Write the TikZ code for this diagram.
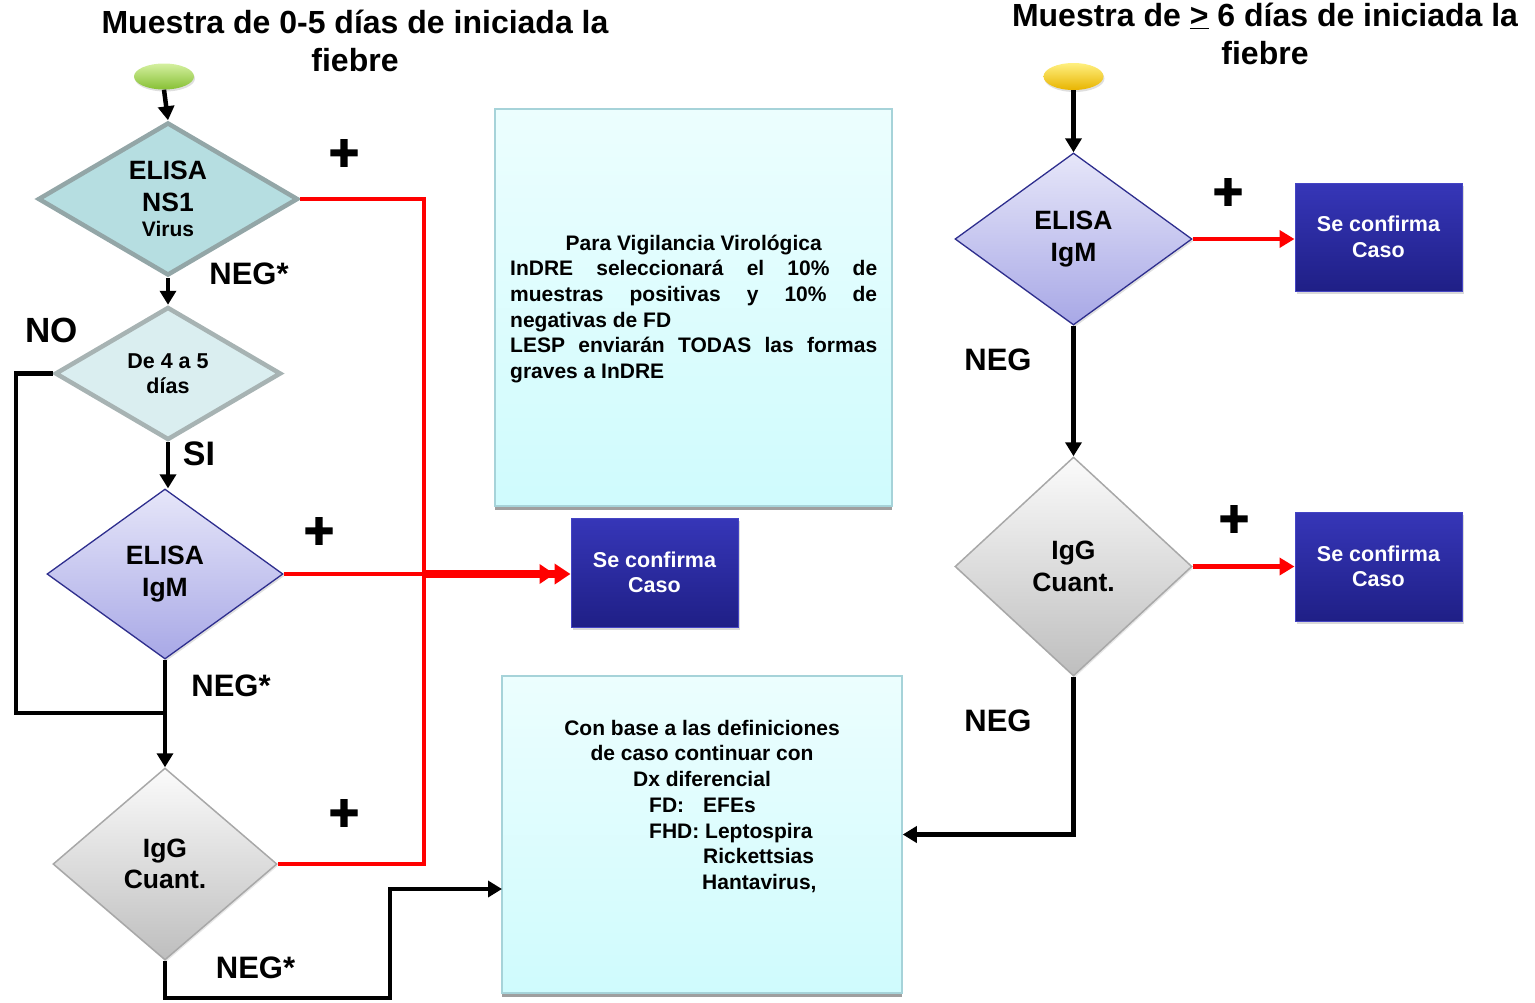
\documentclass[tikz,border=0pt]{standalone}
\usepackage{fontspec}
\setmainfont{Liberation Sans}
\newfontface\plusfont[FakeBold=2.5]{Liberation Sans Bold}
\usetikzlibrary{shapes.geometric,arrows.meta,shadows}
\definecolor{dteal}{HTML}{B6DEE1}
\definecolor{dtealb}{HTML}{93A6A7}
\definecolor{dlt}{HTML}{DAEEF0}
\definecolor{dltb}{HTML}{A7B3B3}
\definecolor{lavt}{HTML}{E6E6F9}
\definecolor{lavb}{HTML}{A8A8E6}
\definecolor{navyb}{HTML}{2E2E8E}
\definecolor{grt}{HTML}{FBFBFB}
\definecolor{grb}{HTML}{BEBEBE}
\definecolor{grbd}{HTML}{A8A8A8}
\definecolor{cyt}{HTML}{ECFEFE}
\definecolor{cyb}{HTML}{CFFBFD}
\definecolor{cybd}{HTML}{A6D3D9}
\definecolor{bxt}{HTML}{3636B8}
\definecolor{bxb}{HTML}{1F1F86}
\definecolor{bxbd}{HTML}{4444C4}
\definecolor{grnt}{HTML}{D4F0A0}
\definecolor{grnb}{HTML}{86C034}
\definecolor{ylt}{HTML}{FFF080}
\definecolor{ylb}{HTML}{E8B400}
\newcommand{\fsz}[2]{\fontsize{#1}{#2}\selectfont}
\begin{document}
\begin{tikzpicture}[x=1pt,y=-1pt,
  every node/.style={font=\bfseries},
  dmd/.style={shape=diamond, inner sep=0pt, align=center, font=\bfseries\fsz{26.5}{31.5}},
  tealdmd/.style={dmd, fill=dteal, draw=dtealb, line width=4.5pt},
  lightdmd/.style={dmd, fill=dlt, draw=dltb, line width=4.5pt, font=\bfseries\fsz{21.5}{24.5}},
  lavdmd/.style={dmd, top color=lavt, bottom color=lavb, draw=navyb, line width=1.3pt,
    drop shadow={shadow xshift=1.5pt, shadow yshift=-2pt, opacity=0.25}},
  graydmd/.style={dmd, top color=grt, bottom color=grb, draw=grbd, line width=1.5pt,
    drop shadow={shadow xshift=1pt, shadow yshift=-2pt, opacity=0.2}},
  infobox/.style={rectangle, top color=cyt, bottom color=cyb, draw=cybd, line width=1.5pt,
    drop shadow={shadow xshift=0pt, shadow yshift=-3.5pt, fill=gray!75, opacity=1}},
  okbox/.style={rectangle, top color=bxt, bottom color=bxb, draw=bxbd, line width=1pt,
    text=white, align=center, font=\bfseries\fsz{21.5}{25.5},
    minimum width=167pt, minimum height=109pt,
    drop shadow={shadow xshift=2pt, shadow yshift=-3pt, opacity=0.3}},
  startell/.style={ellipse, inner sep=0pt, minimum width=60pt, minimum height=26pt,
    drop shadow={shadow xshift=1pt, shadow yshift=-2pt, opacity=0.25}},
  blk/.style={line width=4.5pt, black},
  arr/.style={blk, -{Triangle[width=16pt,length=14pt]}},
  redl/.style={line width=4.5pt, red},
  redarr/.style={redl, -{Triangle[width=17pt,length=15pt]}},
  plus/.style={font={\fsz{52}{52}\plusfont}, inner sep=0pt},
  lbl/.style={font=\bfseries\fsz{31}{31}, inner sep=0pt},
  ttl/.style={font=\bfseries\fsz{32}{37.5}, align=center, inner sep=0pt},
  boxtxt/.style={font=\bfseries\fsz{21}{25.7}, inner sep=0pt},
]
\useasboundingbox (0,0) rectangle (1535,1002);

% titles
\node[ttl] (tl) at (355,41) {Muestra de 0-5 días de iniciada la\\fiebre};
\node[ttl] (tr) at (1265,34) {Muestra de \underline{>} 6 días de iniciada la\\fiebre};

% start ellipses
\node[startell, top color=grnt, bottom color=grnb] (e1) at (164,76.5) {};
\node[startell, top color=ylt, bottom color=ylb, minimum height=27pt] (e2) at (1073.5,76.5) {};

% left column diamonds
\node[tealdmd, minimum width=260pt, minimum height=153pt, shape aspect=1.7] (d1) at (168,199)
  {ELISA\\NS1\\[-6pt]{\fsz{21}{25}Virus}};
\node[lightdmd, minimum width=226pt, minimum height=133pt, shape aspect=1.7] (d2) at (168,373.5)
  {De 4 a 5\\días};
\node[lavdmd, minimum width=236pt, minimum height=170pt, shape aspect=1.4] (d3) at (165,574)
  {ELISA\\IgM};
\node[graydmd, minimum width=224pt, minimum height=192pt, shape aspect=1.2] (d4) at (165,864)
  {IgG\\Cuant.};

% right column diamonds
\node[lavdmd, minimum width=237pt, minimum height=172pt, shape aspect=1.4] (d5) at (1073.5,239)
  {ELISA\\IgM};
\node[graydmd, minimum width=237pt, minimum height=219pt, shape aspect=1.1] (d6) at (1073.5,566.5)
  {IgG\\Cuant.};

% boxes
\node[infobox, minimum width=397pt, minimum height=397pt] (b1) at (693.5,307.5) {};
\node[inner sep=0pt, anchor=base west, font=\bfseries\fsz{21}{25.7}] (b1t) at (510,250)
  {\begin{minipage}[t]{367pt}\parindent=0pt\parskip=0pt
   \centerline{Para Vigilancia Virológica}
   InDRE seleccionará el 10\% de\linebreak
   muestras positivas y 10\% de\linebreak
   negativas de FD\par
   LESP enviarán TODAS las formas\linebreak
   graves a InDRE\end{minipage}};

\node[okbox] (c1) at (654.5,572.5) {Se confirma\\Caso};
\node[okbox, minimum height=108pt] (c2) at (1378.5,237) {Se confirma\\Caso};
\node[okbox] (c3) at (1378.5,566.5) {Se confirma\\Caso};

\node[infobox, minimum width=400pt, minimum height=317pt] (b2) at (702,834.5) {};
\node[boxtxt, anchor=base] (t1) at (702,735) {Con base a las definiciones};
\node[boxtxt, anchor=base] (t2) at (702,760.7) {de caso continuar con};
\node[boxtxt, anchor=base] (t3) at (702,786.4) {Dx diferencial};
\node[boxtxt, anchor=base west] (t4) at (649,812) {\makebox[54pt][l]{FD:}EFEs};
\node[boxtxt, anchor=base west] (t5) at (649,838) {FHD: Leptospira};
\node[boxtxt, anchor=base west] (t6) at (703,863.5) {Rickettsias};
\node[boxtxt, anchor=base west] (t7) at (702,889) {Hantavirus,};

% labels
\node[plus] (p1) at (344,155) {+};
\node[plus] (p2) at (319,533) {+};
\node[plus] (p3) at (344,815) {+};
\node[plus] (p4) at (1228,194) {+};
\node[plus] (p5) at (1234,521) {+};
\node[lbl] (n1) at (249,273.5) {NEG*};
\node[lbl] (n2) at (231,686) {NEG*};
\node[lbl] (n3) at (255.5,967.5) {NEG*};
\node[lbl, font=\bfseries\fsz{35}{35}] (no) at (51.5,330) {NO};
\node[lbl, font=\bfseries\fsz{34}{34}] (si) at (199,454) {SI};
\node[lbl] (n4) at (998,359.5) {NEG};
\node[lbl] (n5) at (998,721) {NEG};

% helper coordinates
\coordinate (lp) at (16,713);
\coordinate (j1) at (165,713);
\coordinate (rc) at (424,500);
\coordinate (k1) at (390,998);
\coordinate (b2in) at (502,889);

% black connectors
\draw[arr] (e1.south) -- (d1.north);
\draw[arr] (d1.south) -- (d1.south |- d2.north);
\draw[arr] (d2.south) -- (d2.south |- d3.north);
\draw[blk] (d2.west) -| (lp) -- (j1);
\draw[arr] (d3.south) -- (d4.north);
\draw[arr] (d4.south) |- (k1) |- (b2in);
\draw[arr] (e2.south) -- (d5.north);
\draw[arr] (d5.south) -- (d6.north);
\draw[arr] (d6.south) |- (b2.east);

% red connectors
\draw[redl] (d1.east) -| (rc) |- (d4.east);
\draw[redl] (d3.east) -- (rc |- d3.east);
\draw[red, line width=8pt, -{Triangle[width=19pt,length=15pt] Triangle[width=20pt,length=16pt]}]
  (rc |- d3.east) -- (d3.east -| c1.west);
\draw[redarr] (d5.east) -- (d5.east -| c2.west);
\draw[redarr] (d6.east) -- (d6.east -| c3.west);
\end{tikzpicture}
\end{document}
